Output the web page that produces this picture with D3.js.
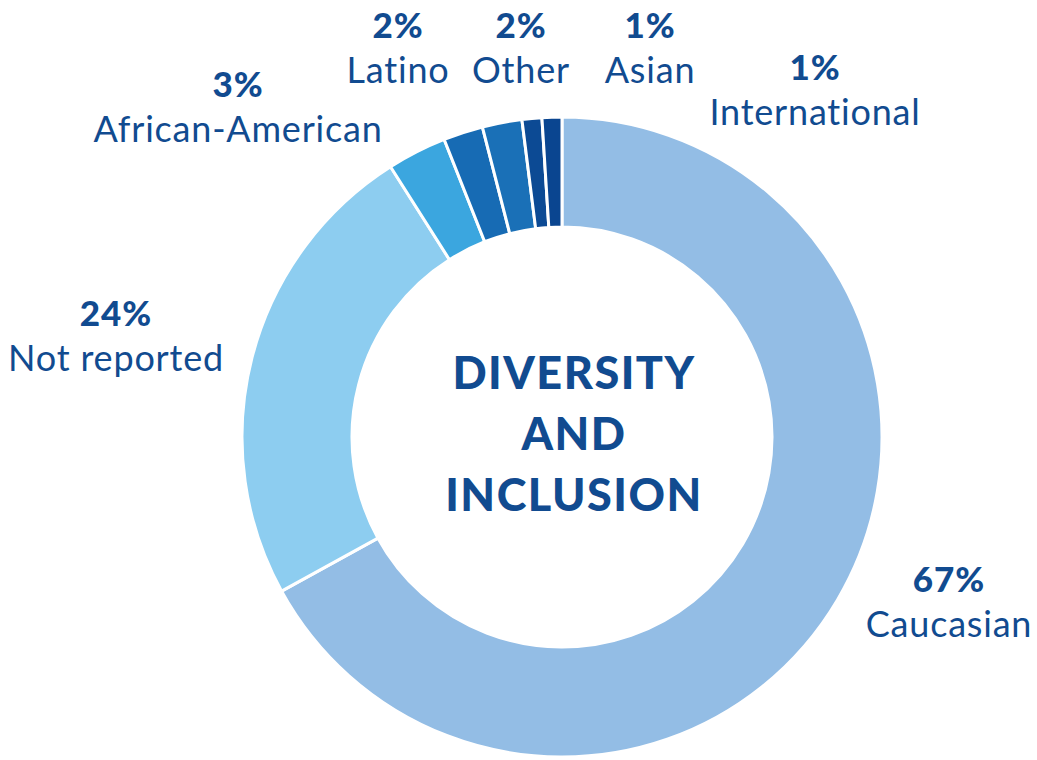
<!DOCTYPE html>
<html>
<head>
<meta charset="utf-8">
<script src="https://cdn.jsdelivr.net/npm/d3@7"></script>
<style>
  html, body { margin: 0; padding: 0; background: #fff; }
  svg { display: block; }
</style>
</head>
<body>
<div id="chart"></div>
<script>
const categories = ["Caucasian", "Not reported", "African-American", "Latino", "Other", "Asian", "International"];
const shares = [67, 24, 3, 2, 2, 1, 1];
const sliceColors = ["#93bde5", "#8dcdf0", "#3ba6df", "#176bb4", "#1a70b7", "#0c4a94", "#0a4590"];
const centerTitle = ["DIVERSITY", "AND", "INCLUSION"];

// label anchors (center x, baseline of the % line)
const labelPos = [
  { x: 949, y: 592 },
  { x: 116, y: 326 },
  { x: 238, y: 97 },
  { x: 398, y: 38 },
  { x: 521, y: 38 },
  { x: 650, y: 38 },
  { x: 815, y: 80 }
];

const width = 1037, height = 760;
const cx = 562, cy = 437;
const outerR = 320, innerR = 210;
const textColor = "#114b90";

const svg = d3.select("#chart").append("svg")
  .attr("width", width)
  .attr("height", height);

const data = categories.map((c, i) => ({ name: c, value: shares[i], color: sliceColors[i] }));

const pie = d3.pie()
  .value(d => d.value)
  .sort(null);

const arc = d3.arc()
  .innerRadius(innerR)
  .outerRadius(outerR);

const g = svg.append("g")
  .attr("transform", `translate(${cx},${cy})`);

g.selectAll("path")
  .data(pie(data))
  .join("path")
  .attr("d", arc)
  .attr("fill", d => d.data.color)
  .attr("stroke", "#fff")
  .attr("stroke-width", 3);

// center title
svg.append("g")
  .selectAll("text")
  .data(centerTitle)
  .join("text")
  .attr("x", cx + 12)
  .attr("y", (d, i) => 389 + i * 61)
  .attr("text-anchor", "middle")
  .attr("font-family", "Lato, sans-serif")
  .attr("font-weight", 900)
  .attr("font-size", "45px")
  .attr("letter-spacing", "1.5px")
  .attr("fill", textColor)
  .text(d => d);

// labels
const labels = svg.append("g")
  .selectAll("g")
  .data(data)
  .join("g")
  .attr("transform", (d, i) => `translate(${labelPos[i].x},${labelPos[i].y})`);

labels.append("text")
  .attr("text-anchor", "middle")
  .attr("font-family", "Lato, sans-serif")
  .attr("font-weight", 900)
  .attr("font-size", "35px")
  .attr("letter-spacing", "1px")
  .attr("fill", textColor)
  .text(d => `${d.value}%`);

labels.append("text")
  .attr("y", 45)
  .attr("text-anchor", "middle")
  .attr("font-family", "Lato, sans-serif")
  .attr("font-weight", 400)
  .attr("font-size", "36px")
  .attr("letter-spacing", "0.8px")
  .attr("fill", textColor)
  .text(d => d.name);
</script>
</body>
</html>
